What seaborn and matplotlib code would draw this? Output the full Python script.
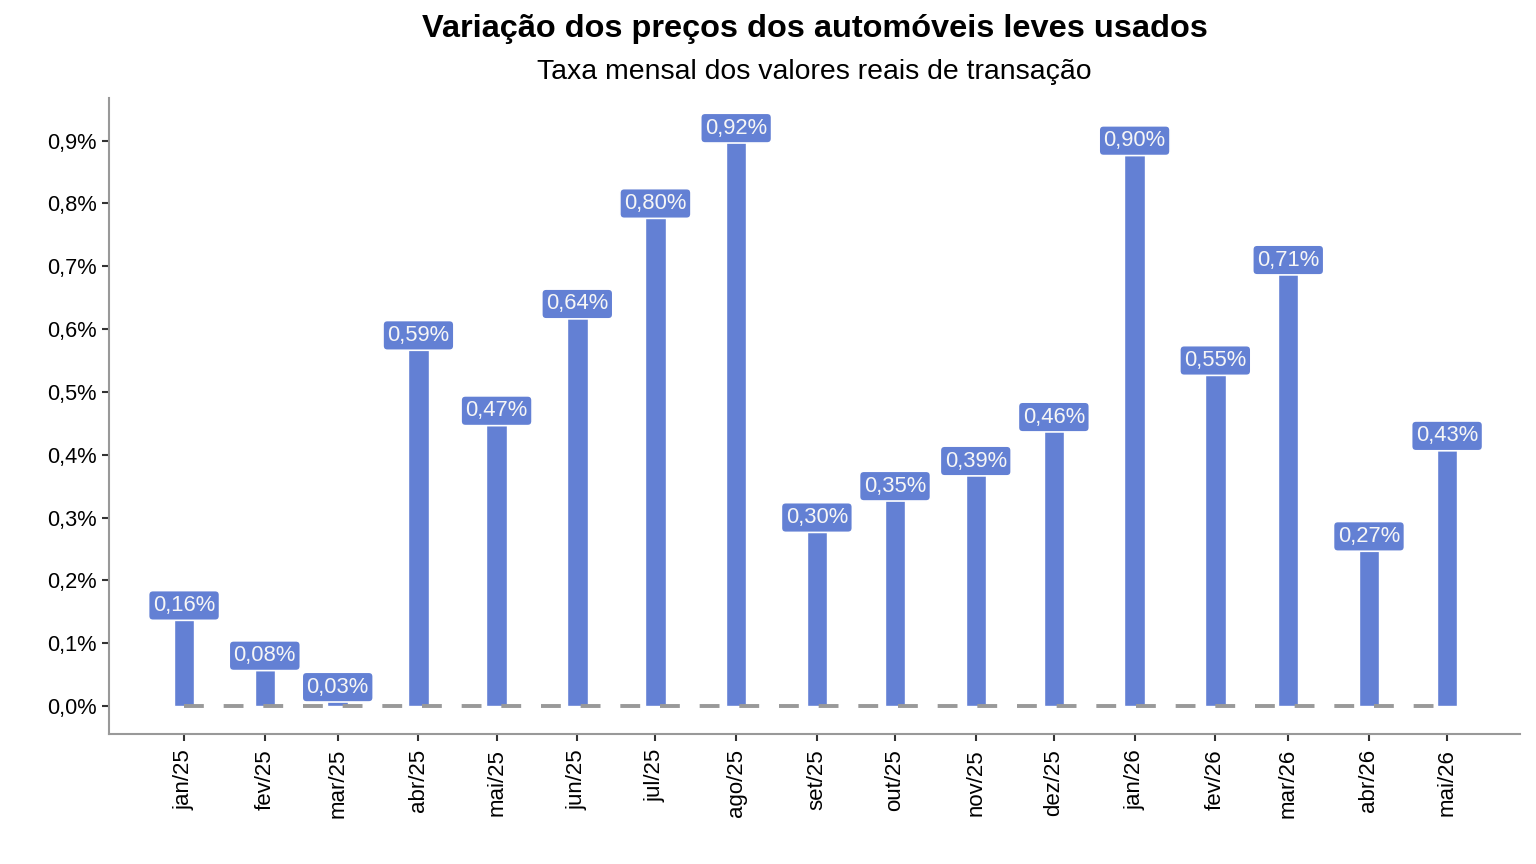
import numpy as np
import pandas as pd
import matplotlib
matplotlib.use("Agg")
import matplotlib.pyplot as plt
import matplotlib.dates as mdates
import seaborn as sns

# dados
meses = ['jan/25', 'fev/25', 'mar/25', 'abr/25', 'mai/25', 'jun/25', 'jul/25', 'ago/25',
         'set/25', 'out/25', 'nov/25', 'dez/25', 'jan/26', 'fev/26', 'mar/26', 'abr/26', 'mai/26']
datas = pd.date_range('2025-01-01', periods=len(meses), freq='MS')
variacao = [0.16, 0.08, 0.03, 0.59, 0.47, 0.64, 0.80, 0.92,
            0.30, 0.35, 0.39, 0.46, 0.90, 0.55, 0.71, 0.27, 0.43]
yticks = [0.0, 0.1, 0.2, 0.3, 0.4, 0.5, 0.6, 0.7, 0.8, 0.9]

AZUL = '#6380d4'

sns.set_style('white', {'xtick.bottom': True, 'ytick.left': True,
                        'text.color': 'black', 'xtick.color': 'black', 'ytick.color': 'black'})
plt.rcParams['font.family'] = ['Liberation Sans', 'DejaVu Sans']

df = pd.DataFrame({'x': mdates.date2num(datas), 'v': variacao})

fig = plt.figure(figsize=(15.36, 8.64), dpi=100)
ax = fig.add_axes([0.071, 0.1505, 0.9186, 0.7361])

sns.barplot(data=df, x='x', y='v', native_scale=True, color=AZUL, saturation=1,
            width=0.28, ax=ax, zorder=2)

# linha de referência no zero
ax.plot(df['x'].iloc[[0, -1]], [0, 0], color='#999999', lw=2.8,
        linestyle=(0, (5.1, 5.1)), zorder=3)

# rótulos em caixa sobre o topo das barras
for xv, v in zip(df['x'], df['v']):
    ax.text(xv, v, f'{v:.2f}%'.replace('.', ','), ha='center', va='center',
            fontsize=15.8, color='#f6f6f6', zorder=4,
            bbox=dict(boxstyle='round,pad=0.2,rounding_size=0.2', fc=AZUL,
                      ec='white', lw=1.2))

ax.set_xlim(df['x'].iloc[0] - 28.8, df['x'].iloc[-1] + 28)
ax.set_ylim(-0.0446, 0.968)
ax.set_xticks(df['x'])
ax.set_xticklabels(meses, rotation=90)
ax.set_yticks(yticks)
ax.set_yticklabels([f'{t:.1f}%'.replace('.', ',') for t in yticks])
ax.tick_params(axis='both', labelsize=15.7, length=5, width=1.5, color='#333333', pad=4)
ax.tick_params(axis='x', labelsize=16, pad=6)
ax.set_xlabel('')
ax.set_ylabel('')

sns.despine(ax=ax)
for s in ['left', 'bottom']:
    ax.spines[s].set_color('#999999')
    ax.spines[s].set_linewidth(1.5)

cx = 0.071 + 0.9186 / 2
fig.text(cx, 0.967, 'Variação dos preços dos automóveis leves usados', ha='center', va='center',
         fontsize=23.4, fontweight='bold', color='black')
fig.text(cx, 0.917, 'Taxa mensal dos valores reais de transação', ha='center', va='center',
         fontsize=20.4, color='black')

fig.savefig('out.png', dpi=100)
